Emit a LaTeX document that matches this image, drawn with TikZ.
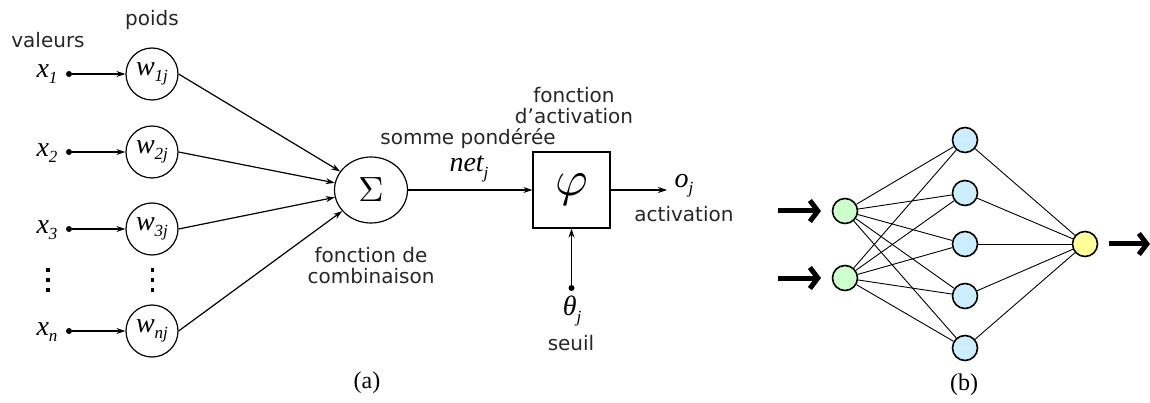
\documentclass[tikz,border=0pt]{standalone}
\usepackage{graphicx}
\usepackage[no-math]{fontspec}
\setmainfont{Liberation Serif}
\newfontfamily\dvsans{DejaVu Sans}
\usetikzlibrary{arrows.meta,shapes.geometric}
\definecolor{ingreen}{HTML}{CCFFCC}
\definecolor{hidblue}{HTML}{CCEEFF}
\definecolor{outyel}{HTML}{FFFF99}
\newcommand{\ilbl}[2]{{\fontsize{28}{30}\selectfont\itshape #1\raisebox{-0.22em}{\fontsize{17}{17}\selectfont\itshape #2}}}
\begin{document}
\begin{tikzpicture}[x=1pt,y=-1pt,
  lbl/.style={font=\dvsans\fontsize{20}{21}\selectfont, align=center, inner sep=0pt, text=black!85},
  mth/.style={inner sep=0pt},
  wcirc/.style={draw, line width=1.2pt, circle, minimum size=52pt, inner sep=0pt},
  ln/.style={line width=1.2pt, -{Stealth[length=9pt,width=6pt]}},
  dotn/.style={circle, fill, inner sep=0pt, minimum size=6pt},
  vdot/.style={rectangle, fill, inner sep=0pt, minimum size=3.6pt},
  captxt/.style={font=\fontsize{24}{26}\selectfont, inner sep=0pt},
  neuron/.style={circle, draw, line width=1.6pt, minimum size=25pt, inner sep=0pt},
  edge/.style={line width=0.9pt},
  bigarrow/.style={line width=5pt, -{Straight Barb[length=8pt 0,width=21pt 0]}}
]
\useasboundingbox (0,0) rectangle (1150,403);

% ---------- (a) ----------
\node[lbl] (val) at (48,40) {valeurs};
\node[lbl] (poids) at (152,20) {poids};

\node[mth] (x1) at (47,74) {\ilbl{x}{1}};
\node[mth] (x2) at (47,153) {\ilbl{x}{2}};
\node[mth] (x3) at (47,230) {\ilbl{x}{3}};
\node[mth] (xn) at (47,332) {\ilbl{x}{n}};

\node[dotn] (d1) at (69,74) {};
\node[dotn] (d2) at (69,152) {};
\node[dotn] (d3) at (69,229) {};
\node[dotn] (dn) at (69,331) {};

\node[wcirc] (w1) at (152,74) {\ilbl{w}{1j}};
\node[wcirc] (w2) at (152,152) {\ilbl{w}{2j}};
\node[wcirc] (w3) at (152,229) {\ilbl{w}{3j}};
\node[wcirc] (wn) at (152,331) {\ilbl{w}{nj}};

\draw[ln] (d1) -- (w1);
\draw[ln] (d2) -- (w2);
\draw[ln] (d3) -- (w3);
\draw[ln] (dn) -- (wn);

\foreach \yy in {270,280,290} {
  \node[vdot] at (48,\yy) {};
  \node[vdot] at (152.5,\yy) {};
}

\node[draw, ellipse, line width=1.2pt, minimum width=73pt, minimum height=66pt, inner sep=0pt] (sig) at (371,190) {\scalebox{3.5}{$\Sigma$}};

\draw[ln] (w1.east) -- (sig);
\draw[ln] (w2.east) -- (sig);
\draw[ln] (w3.east) -- (sig);
\draw[ln] (wn.east) -- (sig);

\node[lbl] (comb) at (371,266) {fonction de\\combinaison};
\node[lbl] (somme) at (468,139) {somme pondérée};
\node[mth] (net) at (469,169) {\ilbl{net}{j}};

\node[draw, rectangle, line width=1.2pt, minimum width=77pt, minimum height=76pt, inner sep=0pt] (phi) at (571.5,190) {\scalebox{5}{$\varphi$}};
\draw[ln] (sig) -- (phi);

\node[lbl] (fact) at (574,106) {fonction\\d’activation};

\coordinate (oend) at (667,190);
\draw[ln] (phi) -- (oend);
\node[mth] (oj) at (684,186) {\ilbl{o}{j}};
\node[lbl] (act) at (684,214) {activation};

\node[dotn] (th) at (571.5,288) {};
\draw[ln] (th) -- (phi);
\node[mth] (thl) at (572,311) {\ilbl{θ}{j}};
\node[lbl] (seuil) at (571,343) {seuil};

\node[captxt] (capa) at (367,383) {(a)};

% ---------- (b) ----------
\node[neuron, fill=ingreen] (i1) at (845,211) {};
\node[neuron, fill=ingreen] (i2) at (845,278) {};
\node[neuron, fill=hidblue] (h1) at (965,140) {};
\node[neuron, fill=hidblue] (h2) at (965,193) {};
\node[neuron, fill=hidblue] (h3) at (965,244) {};
\node[neuron, fill=hidblue] (h4) at (965,296) {};
\node[neuron, fill=hidblue] (h5) at (965,348) {};
\node[neuron, fill=outyel] (o1) at (1085,244) {};

\foreach \i in {i1,i2} {
  \foreach \h in {h1,h2,h3,h4,h5} {
    \draw[edge] (\i) -- (\h);
  }
}
\foreach \h in {h1,h2,h3,h4,h5} {
  \draw[edge] (\h) -- (o1);
}

\coordinate (a1s) at (778,211);
\coordinate (a1e) at (821,211);
\coordinate (a2s) at (778,278);
\coordinate (a2e) at (821,278);
\coordinate (a3s) at (1109,244);
\coordinate (a3e) at (1150,244);
\draw[bigarrow] (a1s) -- (a1e);
\draw[bigarrow] (a2s) -- (a2e);
\draw[bigarrow] (a3s) -- (a3e);

\node[captxt] (capb) at (964,385) {(b)};
\end{tikzpicture}
\end{document}
